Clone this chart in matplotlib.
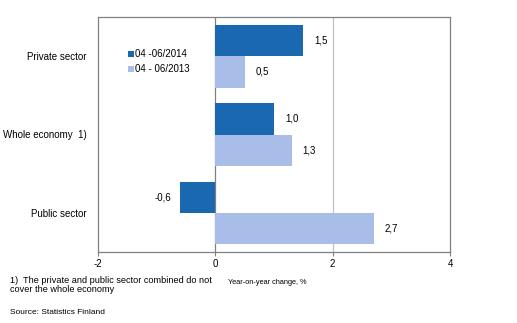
import matplotlib
matplotlib.use('Agg')
import matplotlib.pyplot as plt
import numpy as np

plt.rcParams['font.family'] = ['Liberation Sans', 'DejaVu Sans']

# Data
categories = ['Private sector', 'Whole economy  1)', 'Public sector']
series_2014 = [1.5, 1.0, -0.6]
series_2013 = [0.5, 1.3, 2.7]
labels = ['04 -06/2014', '04 - 06/2013']
xticks = [-2, 0, 2, 4]

dark = '#1A68B0'
light = '#A8BEE9'

fig = plt.figure(figsize=(5.17, 3.23), dpi=100)
ax = fig.add_axes([98 / 517, 1 - 252 / 323, 352 / 517, 235 / 323])

y = np.arange(len(categories))
h = 0.4
b1 = ax.barh(y - h / 2, series_2014, height=h, color=dark, label=labels[0], zorder=3)
b2 = ax.barh(y + h / 2, series_2013, height=h, color=light, label=labels[1], zorder=3)

def fmt(v):
    return ('%.1f' % v).replace('.', ',')

for bars, vals in ((b1, series_2014), (b2, series_2013)):
    for bar, v in zip(bars, vals):
        yc = bar.get_y() + bar.get_height() / 2
        if v >= 0:
            ax.annotate(fmt(v), (v, yc), xytext=(8, 0), textcoords='offset points',
                        ha='left', va='center', fontsize=7)
        else:
            ax.annotate(fmt(v), (v, yc), xytext=(-6, 0), textcoords='offset points',
                        ha='right', va='center', fontsize=7)

ax.set_xlim(-2, 4)
ax.set_ylim(len(categories) - 0.5, -0.5)
ax.set_xticks(xticks)
ax.set_xticklabels([str(t) for t in xticks], fontsize=7)
ax.set_yticks(y)
ax.set_yticklabels(categories, fontsize=7)
ax.tick_params(axis='y', length=0, pad=8)
ax.tick_params(axis='x', length=3, color='#808080', pad=2)

ax.axvline(0, color='#808080', lw=0.9, zorder=2)
ax.axvline(2, color='#C0C0C0', lw=0.9, zorder=2)
for s in ax.spines.values():
    s.set_color('#808080')
    s.set_linewidth(0.9)

ax.legend(loc='upper left', bbox_to_anchor=(0.075, 0.88), frameon=False, fontsize=7,
          handlelength=0.6, handleheight=0.6, handletextpad=0.1, labelspacing=0.55,
          borderaxespad=0)

fig.text(10 / 517, 1 - 285 / 323, '1)  The private and public sector combined do not\ncover the whole economy',
         fontsize=6.6, va='center', ha='left', linespacing=1.0)
fig.text(228 / 517, 1 - 283 / 323, 'Year-on-year change, %', fontsize=5.3, va='center', ha='left')
fig.text(10 / 517, 1 - 312 / 323, 'Source: Statistics Finland', fontsize=6, va='center', ha='left')

fig.savefig('out.png', dpi=100)
